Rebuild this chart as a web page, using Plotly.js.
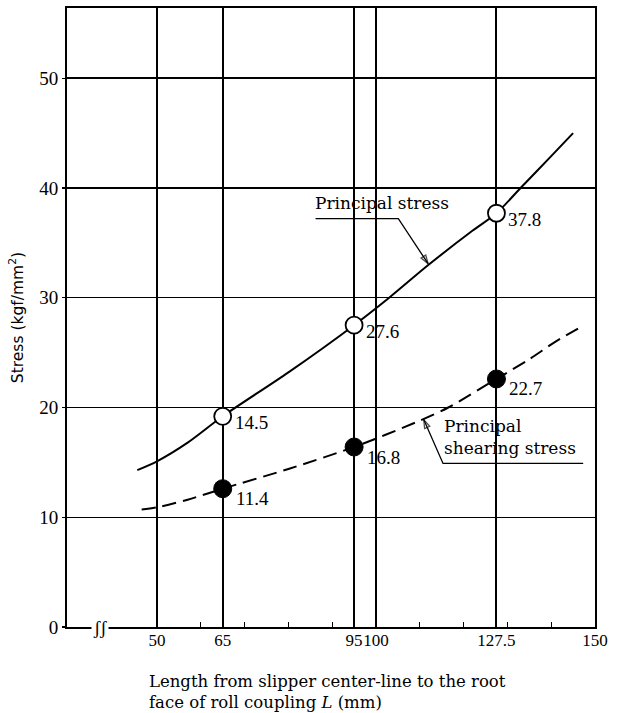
<!DOCTYPE html>
<html>
<head>
<meta charset="utf-8">
<script src="https://cdn.plot.ly/plotly-3.0.1.min.js"></script>
<style>html,body{margin:0;padding:0;background:#fff;}#chart{width:620px;height:713px;}</style>
</head>
<body>
<div id="chart"></div>
<script>
// ---- data ----
const xTickVals = [50, 65, 95, 100, 127.5, 150];
const xTickText = ["50", "65", "95", "100", "127.5", "150"];
const xMinorTicks = [60, 70, 80, 90, 110, 120, 130, 140];
const yTickVals = [0, 10, 20, 30, 40, 50];
const yTickText = ["0", "10", "20", "30", "40", "50"];

const principalCurveX = [45.5, 50, 57, 65, 80, 95, 103, 112, 122, 127.5, 133, 140, 145];
const principalCurveY = [14.3, 15.1, 16.8, 19.2, 23.2, 27.5, 30.0, 33.0, 36.1, 37.7, 40.0, 42.9, 45.0];
const principalPointX = [65, 95, 127.5];
const principalPointY = [19.2, 27.5, 37.7];
const principalLabels = ["14.5", "27.6", "37.8"];

const shearCurveX = [46.5, 50, 57, 65, 80, 95, 110, 116.5, 127.5, 135, 141, 147.5];
const shearCurveY = [10.7, 10.9, 11.6, 12.6, 14.4, 16.4, 18.8, 20.0, 22.6, 24.4, 26.0, 27.5];
const shearPointX = [65, 95, 127.5];
const shearPointY = [12.6, 16.4, 22.6];
const shearLabels = ["11.4", "16.8", "22.7"];

const principalName = "Principal stress";
const shearName = "Principal<br>shearing stress";
const xAxisTitle = "Length from slipper center-line to the root<br>face of roll coupling <i>L</i> (mm)";
const yAxisTitle = "Stress (kgf/mm<sup>2</sup>)";

// ---- drawing ----
const serif = "Liberation Serif, Times New Roman, serif";
const wideSerif = "DejaVu Serif, serif";
const black = "#000";

// callout leader lines (underline + leader ending in an open arrow head)
const principalLeaderX = [86.2, 105.1, 111.9];
const principalLeaderY = [37.2, 37.2, 33.1];
const shearLeaderX = [147.3, 115.3, 110.9];
const shearLeaderY = [14.9, 14.9, 18.9];

function leader(xs, ys) {
  return {x: xs, y: ys, mode: "lines+markers", hoverinfo: "skip", showlegend: false,
    line: {color: black, width: 1.3},
    marker: {symbol: "arrow-open", angleref: "previous", size: xs.map((v, i) => i === xs.length - 1 ? 9 : 0),
      color: black, line: {color: black, width: 1.3}}};
}

const traces = [
  {x: principalCurveX, y: principalCurveY, mode: "lines", line: {color: black, width: 2, shape: "spline", smoothing: 0.8}, hoverinfo: "skip", showlegend: false},
  {x: shearCurveX, y: shearCurveY, mode: "lines", line: {color: black, width: 2, dash: "14px,7px", shape: "spline", smoothing: 0.8}, hoverinfo: "skip", showlegend: false},
  leader(principalLeaderX, principalLeaderY),
  leader(shearLeaderX, shearLeaderY),
  {x: principalPointX, y: principalPointY, mode: "markers", marker: {size: 17, color: "#fff", line: {color: black, width: 1.8}}, showlegend: false},
  {x: shearPointX, y: shearPointY, mode: "markers", marker: {size: 18, color: black, line: {color: black, width: 1}}, showlegend: false}
];

const annotations = [];
principalLabels.forEach((t, i) => annotations.push({x: principalPointX[i], y: principalPointY[i], text: t, showarrow: false, xanchor: "left", yanchor: "middle", xshift: 10, yshift: -6, font: {family: serif, size: 19, color: black}}));
shearLabels.forEach((t, i) => annotations.push({x: shearPointX[i], y: shearPointY[i], text: t, showarrow: false, xanchor: "left", yanchor: "middle", xshift: 11, yshift: -10, font: {family: serif, size: 19, color: black}}));

annotations.push({x: 85.6, y: 37.5, text: principalName, showarrow: false, xanchor: "left", yanchor: "bottom", font: {family: wideSerif, size: 17, color: black}});
annotations.push({x: 115.0, y: 15.2, text: shearName, showarrow: false, align: "left", xanchor: "left", yanchor: "bottom", font: {family: wideSerif, size: 17, color: black}});

// axis break symbol
annotations.push({x: 37, y: 0, text: "ʃʃ", showarrow: false, bgcolor: "#fff", font: {family: serif, size: 19, color: black}, xanchor: "center", yanchor: "middle"});

// x axis title (left aligned, two lines)
annotations.push({xref: "paper", yref: "paper", x: 0.153, y: -0.1385, borderpad: 0, text: xAxisTitle, showarrow: false, align: "left", xanchor: "left", yanchor: "bottom", font: {family: wideSerif, size: 16.5, color: black}});

const layout = {
  width: 620, height: 713,
  margin: {l: 67, r: 25, t: 8, b: 86, pad: 0},
  paper_bgcolor: "#fff", plot_bgcolor: "#fff",
  font: {family: serif, color: black, size: 17},
  showlegend: false,
  xaxis: {
    range: [29.45, 150], tickmode: "array", tickvals: xTickVals, ticktext: xTickText, tickangle: 0,
    showgrid: true, gridcolor: black, gridwidth: 2, zeroline: false,
    showline: true, linecolor: black, linewidth: 2, mirror: true,
    ticks: "", ticklen: 0, ticklabelstandoff: -3, tickfont: {family: serif, size: 17, color: black},
    minor: {tickmode: "array", tickvals: xMinorTicks, ticks: "inside", ticklen: 5, tickwidth: 1.2, tickcolor: black, showgrid: false}
  },
  yaxis: {
    range: [0, 56.4], tickmode: "array", tickvals: yTickVals, ticktext: yTickText,
    showgrid: true, gridcolor: black, gridwidth: 1.5, zeroline: false,
    showline: true, linecolor: black, linewidth: 2, mirror: true,
    ticks: "outside", ticklen: 3, tickwidth: 1.2, tickcolor: black,
    tickfont: {family: serif, size: 19, color: black},
    title: {text: yAxisTitle, standoff: 12, font: {family: "DejaVu Sans, sans-serif", size: 15.5, color: black}}
  },
  annotations: annotations
};

Plotly.newPlot("chart", traces, layout, {staticPlot: true, displayModeBar: false});
</script>
</body>
</html>
